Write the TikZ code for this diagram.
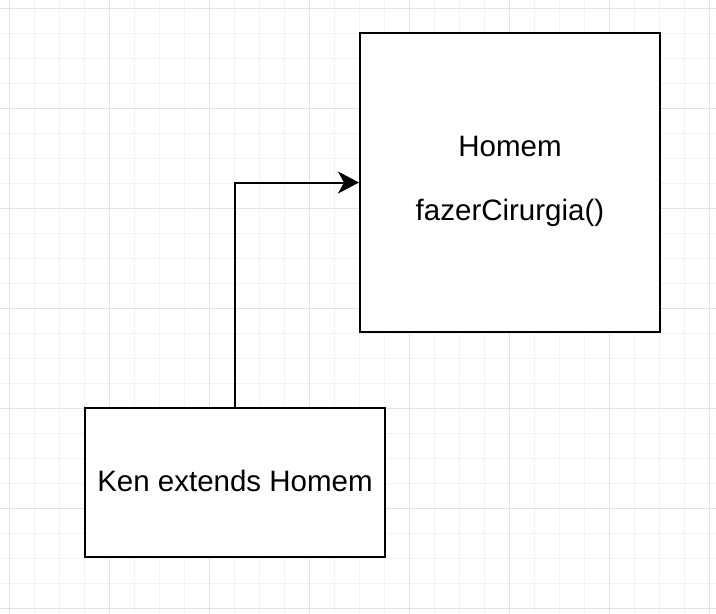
\documentclass[tikz,border=0pt]{standalone}
\usepackage{fontspec}
\setmainfont{Liberation Sans}
\usetikzlibrary{arrows.meta}
\definecolor{gridminor}{HTML}{F3F3F3}
\definecolor{gridmajor}{HTML}{E2E2E2}
\tikzset{
  umlbox/.style={draw=black, fill=white, line width=2pt, inner sep=0pt},
  boxtext/.style={anchor=base, inner sep=0pt, font=\fontsize{29.5}{35}\selectfont},
  inherit/.style={draw=black, line width=2pt,
    -{Stealth[length=21pt 0,width=22pt 0,inset=6pt 0]}},
}
\begin{document}
\begin{tikzpicture}[x=1pt,y=-1pt]
\useasboundingbox[fill=white] (0,0) rectangle (716,614);
% grid
\foreach \i in {0,...,28} {
  \draw[gridminor, line width=1pt] ({9+25*\i},0) -- ({9+25*\i},614);
}
\foreach \i in {0,...,24} {
  \draw[gridminor, line width=1pt] (0,{8+25*\i}) -- (716,{8+25*\i});
}
\foreach \i in {0,...,7} {
  \draw[gridmajor, line width=1pt] ({9+100*\i},0) -- ({9+100*\i},614);
}
\foreach \i in {0,...,6} {
  \draw[gridmajor, line width=1pt] (0,{8+100*\i}) -- (716,{8+100*\i});
}
% boxes
\node[umlbox, minimum width=300pt, minimum height=299pt] (homem) at (510,182.5) {};
\node[umlbox, minimum width=300pt, minimum height=149pt] (ken) at (235,482.5) {};
% texts
\node[boxtext] (homemname) at (510,156) {Homem};
\node[boxtext] (homemop) at (510,220) {fazerCirurgia()};
\node[boxtext] (kenname) at (235,491) {Ken extends Homem};
% connector
\draw[inherit] (ken.north) |- (homem.west);
\end{tikzpicture}
\end{document}
